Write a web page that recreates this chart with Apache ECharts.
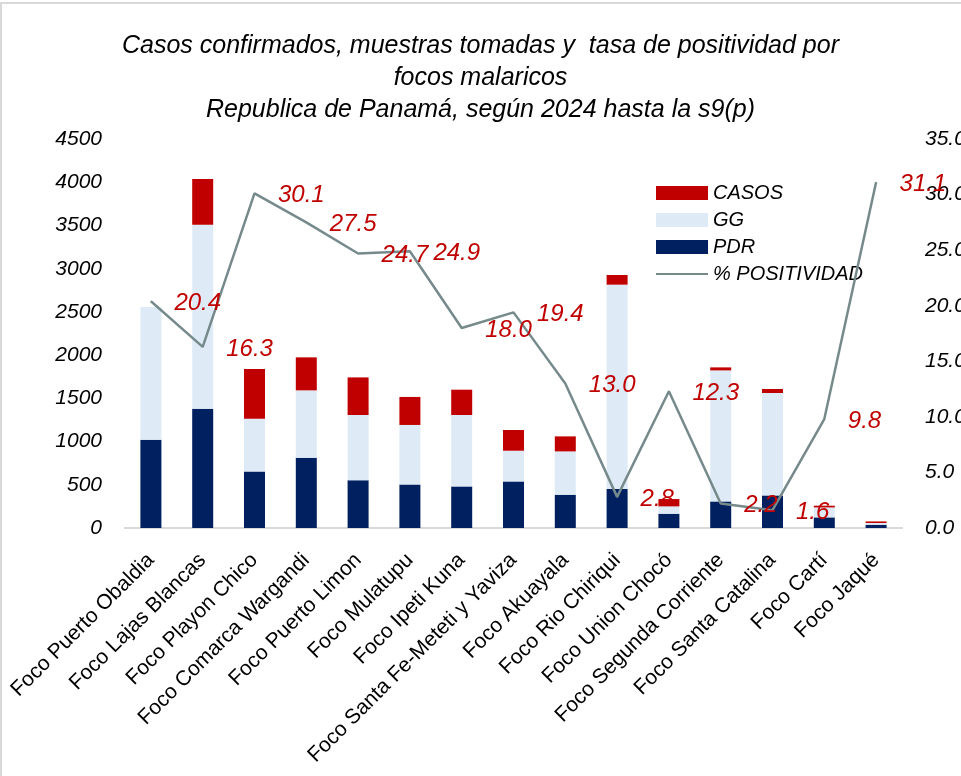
<!DOCTYPE html>
<html>
<head>
<meta charset="utf-8">
<title>Focos malaricos</title>
<script src="https://cdn.jsdelivr.net/npm/echarts@6/dist/echarts.min.js"></script>
<style>
  html, body { margin: 0; padding: 0; background: #fff; }
  #main { width: 961px; height: 776px; }
</style>
</head>
<body>
<div id="main"></div>
<script>
// datos
var focos = ['Foco Puerto Obaldia', 'Foco Lajas Blancas', 'Foco Playon Chico', 'Foco Comarca Wargandi',
  'Foco Puerto Limon', 'Foco Mulatupu', 'Foco Ipeti Kuna', 'Foco Santa Fe-Meteti y Yaviza', 'Foco Akuayala',
  'Foco Rio Chiriqui', 'Foco Union Chocó', 'Foco Segunda Corriente', 'Foco Santa Catalina', 'Foco Cartí', 'Foco Jaqué'];
var pdr = [1020, 1380, 655, 813, 551, 504, 481, 539, 385, 451, 165, 308, 377, 123, 38];
var gg = [1537, 2129, 609, 779, 756, 688, 826, 355, 501, 2364, 85, 1515, 1185, 115, 20];
var casos = [0, 528, 575, 382, 435, 324, 293, 240, 174, 112, 85, 35, 46, 20, 18];
var positividad = [20.4, 16.3, 30.1, 27.5, 24.7, 24.9, 18.0, 19.4, 13.0, 2.8, 12.3, 2.2, 1.6, 9.8, 31.1];
var ticksIzq = { min: 0, max: 4500, interval: 500 };
var ticksDer = { min: 0, max: 35, interval: 5 };

var fuente = 'Liberation Sans, Arial, sans-serif';
var myChart = echarts.init(document.getElementById('main'));

var option = {
  backgroundColor: '#fff',
  animation: false,
  title: {
    text: 'Casos confirmados, muestras tomadas y  tasa de positividad por\nfocos malaricos\nRepublica de Panamá, según 2024 hasta la s9(p)',
    left: 'center',
    top: 30,
    padding: [0, 0, 0, 12],
    textStyle: { fontFamily: fuente, fontSize: 25, fontStyle: 'italic', fontWeight: 'normal', color: '#000', lineHeight: 32 }
  },
  // marco gris del grafico
  graphic: [{
    type: 'rect',
    shape: { x: 1, y: 3, width: 1000, height: 800 },
    style: { fill: 'none', stroke: '#D9D9D9', lineWidth: 2 },
    silent: true
  }],
  legend: {
    orient: 'vertical',
    left: 655,
    top: 183,
    padding: 0,
    itemGap: 7,
    itemWidth: 52,
    itemHeight: 14,
    data: [
      { name: 'CASOS', icon: 'rect' },
      { name: 'GG', icon: 'rect' },
      { name: 'PDR', icon: 'rect' },
      { name: '% POSITIVIDAD', itemStyle: { opacity: 0 } }
    ],
    textStyle: { fontFamily: fuente, fontSize: 20, fontStyle: 'italic', color: '#000' }
  },
  grid: { left: 125, right: 59, top: 139, bottom: 248, containLabel: false, outerBoundsMode: 'none' },
  xAxis: {
    type: 'category',
    data: focos,
    axisLine: { lineStyle: { color: '#D9D9D9', width: 2 } },
    axisTick: { show: false },
    axisLabel: { interval: 0, rotate: 45, margin: 29, fontFamily: fuente, fontSize: 21, color: '#000' }
  },
  yAxis: [
    {
      type: 'value',
      min: ticksIzq.min, max: ticksIzq.max, interval: ticksIzq.interval,
      splitLine: { show: false },
      axisLine: { show: false },
      axisLabel: {
        margin: 23, fontFamily: fuente, fontSize: 21, fontStyle: 'italic', color: '#000',
        formatter: function (v) { return String(v); }
      }
    },
    {
      type: 'value',
      min: ticksDer.min, max: ticksDer.max, interval: ticksDer.interval,
      splitLine: { show: false },
      axisLine: { show: false },
      axisLabel: {
        margin: 23, fontFamily: fuente, fontSize: 21, fontStyle: 'italic', color: '#000',
        formatter: function (v) { return v.toFixed(1); }
      }
    }
  ],
  series: [
    { name: 'PDR', type: 'bar', stack: 'total', data: pdr, barWidth: 21, itemStyle: { color: '#002060' } },
    { name: 'GG', type: 'bar', stack: 'total', data: gg, itemStyle: { color: '#DEEBF7' } },
    { name: 'CASOS', type: 'bar', stack: 'total', data: casos, itemStyle: { color: '#C00000' } },
    {
      name: '% POSITIVIDAD',
      type: 'line',
      yAxisIndex: 1,
      data: positividad,
      symbol: 'circle',
      symbolSize: 1,
      showSymbol: true,
      z: 5,
      lineStyle: { color: '#778A8B', width: 2.5 },
      itemStyle: { color: '#778A8B' },
      label: {
        show: true,
        position: 'right',
        distance: 23,
        offset: [0, 2],
        fontFamily: fuente,
        fontSize: 24,
        fontStyle: 'italic',
        color: '#C00000',
        formatter: function (p) { return p.value.toFixed(1); }
      }
    }
  ]
};

myChart.setOption(option);
</script>
</body>
</html>
